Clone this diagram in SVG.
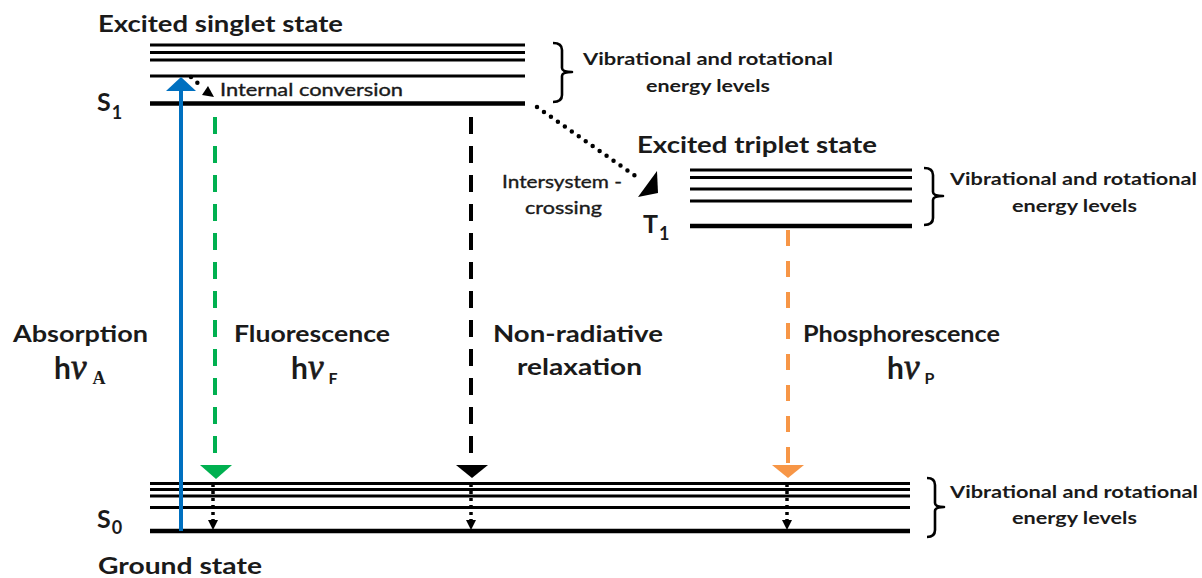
<svg xmlns="http://www.w3.org/2000/svg" width="1202" height="578" viewBox="0 0 1202 578">
<style>
.bg{fill:#ffffff}
.lv{stroke:#000;stroke-width:3;fill:none}
.lvt{stroke:#000;stroke-width:4.5;fill:none}
.br{stroke:#000;stroke-width:2.6;fill:none;stroke-linejoin:round}
.t{font-family:Lato,"Liberation Sans",sans-serif;fill:#1a1a1a}
.b{font-weight:bold}
.h1{font-size:23px}
.lbl{font-size:25px;font-weight:bold}
.lsub{font-size:18px;font-weight:bold}
.vib{font-size:17px;font-weight:bold}
.sm{font-size:17px;stroke:#1a1a1a;stroke-width:0.35}
.hb{font-family:Lato,"Liberation Sans",sans-serif;font-weight:bold;font-size:30px}
.nu{font-family:"Liberation Serif","DejaVu Serif",serif;font-style:italic;font-size:35px;stroke:#1a1a1a;stroke-width:0.8}
.sub{font-family:Lato,"Liberation Sans",sans-serif;font-weight:bold;font-size:16px}
.subs{font-family:"Liberation Serif",serif;font-weight:bold;font-size:18px}
.dashG{stroke:#00B050;stroke-width:4;stroke-dasharray:17 12;fill:none}
.dashK{stroke:#000;stroke-width:4;stroke-dasharray:17 12;fill:none}
.dashO{stroke:#F79646;stroke-width:4;stroke-dasharray:16 15;fill:none}
.dot{stroke:#000;stroke-width:3.5;stroke-dasharray:3 4;fill:none}
.rdot{stroke:#000;stroke-width:4.5;stroke-linecap:round;stroke-dasharray:0 8.5;fill:none}
</style>
<rect class="bg" x="0" y="0" width="1202" height="578"/>

<g id="singlet-state">
  <line class="lv" x1="150" y1="45" x2="525" y2="45"/>
  <line class="lv" x1="150" y1="52.5" x2="525" y2="52.5"/>
  <line class="lv" x1="150" y1="60" x2="525" y2="60"/>
  <line class="lv" x1="150" y1="76" x2="525" y2="76"/>
  <line class="lvt" x1="150" y1="103.5" x2="525" y2="103.5"/>
  <text class="t b h1" x="98" y="32" textLength="245" lengthAdjust="spacingAndGlyphs">Excited singlet state</text>
  <text class="t" x="97" y="111"><tspan class="lbl">S</tspan><tspan class="lsub" dy="8" dx="1">1</tspan></text>
</g>

<g id="singlet-brace">
  <path class="br" d="M553,43 Q562,43 562,50 L562,68 Q562,72 572,72 Q562,72 562,76 L562,95 Q562,102 553,102"/>
  <text class="t vib" x="583" y="65" textLength="250" lengthAdjust="spacingAndGlyphs">Vibrational and rotational</text>
  <text class="t vib" x="646" y="92" textLength="124" lengthAdjust="spacingAndGlyphs">energy levels</text>
</g>

<g id="triplet-state">
  <line class="lv" x1="690" y1="170" x2="912" y2="170"/>
  <line class="lv" x1="690" y1="177.5" x2="912" y2="177.5"/>
  <line class="lv" x1="690" y1="189" x2="912" y2="189"/>
  <line class="lv" x1="690" y1="201" x2="912" y2="201"/>
  <line class="lvt" x1="690" y1="226" x2="912" y2="226"/>
  <text class="t b h1" x="637" y="153" textLength="240" lengthAdjust="spacingAndGlyphs">Excited triplet state</text>
  <text class="t" x="643" y="233"><tspan class="lbl">T</tspan><tspan class="lsub" dy="7" dx="1">1</tspan></text>
</g>

<g id="triplet-brace">
  <path class="br" d="M924,168 Q933,168 933,175 L933,192 Q933,196 943,196 Q933,196 933,200 L933,218 Q933,225 924,225"/>
  <text class="t vib" x="950" y="185" textLength="247" lengthAdjust="spacingAndGlyphs">Vibrational and rotational</text>
  <text class="t vib" x="1012" y="212" textLength="125" lengthAdjust="spacingAndGlyphs">energy levels</text>
</g>

<g id="ground-state">
  <line class="lv" x1="150" y1="483.5" x2="910" y2="483.5"/>
  <line class="lv" x1="150" y1="489.5" x2="910" y2="489.5"/>
  <line class="lv" x1="150" y1="496" x2="910" y2="496"/>
  <line class="lv" x1="150" y1="507.5" x2="910" y2="507.5"/>
  <line class="lvt" x1="150" y1="531" x2="910" y2="531"/>
  <text class="t" x="97" y="528"><tspan class="lbl">S</tspan><tspan class="lsub" dy="6" dx="1">0</tspan></text>
  <text class="t b h1" x="98" y="574" textLength="164" lengthAdjust="spacingAndGlyphs">Ground state</text>
</g>

<g id="ground-brace">
  <path class="br" d="M927,478 Q935,478 935,485 L935,503 Q935,507 944,507 Q935,507 935,511 L935,530 Q935,537 927,537"/>
  <text class="t vib" x="950" y="498" textLength="248" lengthAdjust="spacingAndGlyphs">Vibrational and rotational</text>
  <text class="t vib" x="1012" y="524" textLength="125" lengthAdjust="spacingAndGlyphs">energy levels</text>
</g>

<g id="absorption-label">
  <text class="t b h1" x="13" y="342" textLength="135" lengthAdjust="spacingAndGlyphs">Absorption</text>
  <text class="t" x="54" y="379"><tspan class="hb">h</tspan><tspan class="nu">ν</tspan><tspan class="subs" dy="5" dx="6">A</tspan></text>
</g>

<g id="fluorescence-label">
  <text class="t b h1" x="234" y="342" textLength="156" lengthAdjust="spacingAndGlyphs">Fluorescence</text>
  <text class="t" x="291" y="379"><tspan class="hb">h</tspan><tspan class="nu">ν</tspan><tspan class="sub" dy="5" dx="5">F</tspan></text>
</g>

<g id="nonradiative-label">
  <text class="t b h1" x="493" y="342" textLength="170" lengthAdjust="spacingAndGlyphs">Non-radiative</text>
  <text class="t b h1" x="517" y="375" textLength="125" lengthAdjust="spacingAndGlyphs">relaxation</text>
</g>

<g id="phosphorescence-label">
  <text class="t b h1" x="803" y="342" textLength="197" lengthAdjust="spacingAndGlyphs">Phosphorescence</text>
  <text class="t" x="887" y="379"><tspan class="hb">h</tspan><tspan class="nu">ν</tspan><tspan class="sub" dy="5" dx="5">P</tspan></text>
</g>

<g id="internal-conversion-label">
  <text class="t sm" x="220" y="96" textLength="183" lengthAdjust="spacingAndGlyphs">Internal conversion</text>
</g>

<g id="isc-label">
  <text class="t sm" x="502" y="188" textLength="120" lengthAdjust="spacingAndGlyphs">Intersystem -</text>
  <text class="t sm" x="525" y="214" textLength="77" lengthAdjust="spacingAndGlyphs">crossing</text>
</g>

<g id="connectors">
  <line x1="181" y1="531" x2="181" y2="89" stroke="#0070C0" stroke-width="4"/>
  <polygon points="166,91 196,91 181,77" fill="#0070C0"/>
  <line class="rdot" x1="191" y1="77" x2="200" y2="85"/>
  <polygon points="208,86 214,97 202,95" fill="#000"/>
  <line class="dashG" x1="215" y1="117" x2="215" y2="465"/>
  <polygon points="200,465 232,465 216,479" fill="#00B050"/>
  <line class="dashK" x1="471" y1="117" x2="471" y2="465"/>
  <polygon points="456,465 488,465 472,478" fill="#000"/>
  <line class="dashO" x1="788" y1="230" x2="788" y2="465"/>
  <polygon points="772,465 804,465 788,478" fill="#F79646"/>
  <line class="dot" x1="213" y1="484" x2="213" y2="521"/>
  <polygon points="208,520 218,520 213,530" fill="#000"/>
  <line class="dot" x1="471" y1="484" x2="471" y2="521"/>
  <polygon points="466,520 476,520 471,530" fill="#000"/>
  <line class="dot" x1="787" y1="484" x2="787" y2="521"/>
  <polygon points="782,520 792,520 787,530" fill="#000"/>
  <line class="rdot" x1="537" y1="107" x2="641" y2="180"/>
  <polygon points="657,171 658,193 638,197" fill="#000"/>
</g>
</svg>
